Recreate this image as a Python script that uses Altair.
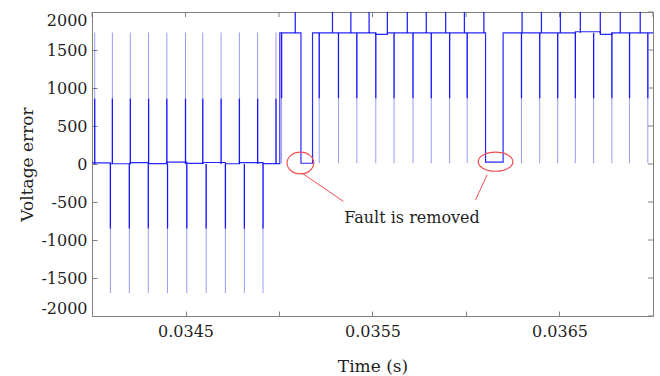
import altair as alt
import pandas as pd

# ---------------- data ----------------
# Section 1 (before 0.035 s): baseline near 0, spikes up and down
s1_up_t = [0.0340144, 0.0341089, 0.0342049, 0.0343026, 0.0344002, 0.0345,
           0.0345923, 0.0346905, 0.0347882, 0.0348858, 0.034984]
s1_down_t = [0.0340982, 0.0341996, 0.034301, 0.0344039, 0.0345069,
             0.0346105, 0.0347134, 0.0348148, 0.0349146]
# Section 2 (after 0.035 s): baseline near 1725
s2_up_t = [0.035087, 0.035286, 0.0353842, 0.0354819, 0.0355795, 0.0356862,
           0.0357876, 0.0358911, 0.0359915, 0.0360955, 0.0362999, 0.0364034,
           0.0365048, 0.0366115, 0.0367182, 0.036825, 0.0369317]
s2_down_t = [0.0350139, 0.035215, 0.035318, 0.0354162, 0.0355176, 0.0356153,
             0.0357166, 0.0358143, 0.0359125, 0.0360064, 0.0362967, 0.0363943,
             0.0364904, 0.0365848, 0.0366825, 0.0367801, 0.0368746, 0.0369723]

# baseline (step-after) breakpoints and levels
base_t = [0.034, 0.0340982, 0.0342049, 0.034301, 0.0344002, 0.0345069,
          0.0345923, 0.0347134, 0.0347882, 0.0349146,
          0.0350043, 0.0351174, 0.0351793, 0.0355176, 0.0355795,
          0.0361046, 0.0361985, 0.0365848, 0.0367182, 0.0367801, 0.037]
base_v = [15, 3, 18, 5, 25, 8, 20, 3, 18, 5,
          1725, 10, 1725, 1705, 1725,
          25, 1725, 1740, 1705, 1725, 1725]

# spike levels
s1_base = 0
s1_up_light, s1_up_dark = 1730, 860
s1_down_dark, s1_down_light = -850, -1700
s2_base = 1725
s2_up_dark = 2600
s2_down_dark, s2_down_light = 865, 10

# axis ticks
x_ticks = [0.034, 0.0345, 0.035, 0.0355, 0.036, 0.0365, 0.037]
x_labeled = ["0.0345", "0.0355", "0.0365"]
y_ticks = [-2000, -1500, -1000, -500, 0, 500, 1000, 1500, 2000]

# annotation
ann_text = "Fault is removed"
ann_text_t, ann_text_v = 0.0357113, -770
ell_t = [0.0351144, 0.036158]
ell_v = [13, 30]
lead_t = [0.0351206, 0.0361131]
lead_v = [-116, -139]
lead_t2 = [0.0353447, 0.0360512]
lead_v2 = [-492, -474]

# ---------------- tables ----------------
rows = []
for t in s1_up_t:
    rows.append(dict(t=t, v=s1_base, v2=s1_up_light, kind="light"))
    rows.append(dict(t=t, v=s1_base, v2=s1_up_dark, kind="dark"))
for t in s1_down_t:
    rows.append(dict(t=t, v=s1_base, v2=s1_down_light, kind="light"))
    rows.append(dict(t=t, v=s1_base, v2=s1_down_dark, kind="dark"))
for t in s2_up_t:
    rows.append(dict(t=t, v=s2_base, v2=s2_up_dark, kind="dark"))
for t in s2_down_t:
    rows.append(dict(t=t, v=s2_base, v2=s2_down_light, kind="light"))
    rows.append(dict(t=t, v=s2_base, v2=s2_down_dark, kind="dark"))
spikes = pd.DataFrame(rows)
base = pd.DataFrame({"t": base_t, "v": base_v})
xt = pd.DataFrame({"t": x_ticks})
yt = pd.DataFrame({"v": y_ticks})
ell1 = pd.DataFrame({"t": [ell_t[0]], "v": [ell_v[0]]})
ell2 = pd.DataFrame({"t": [ell_t[1]], "v": [ell_v[1]]})
leads = pd.DataFrame({"t": lead_t, "v": lead_v, "t2": lead_t2, "v2": lead_v2})
txt = pd.DataFrame({"t": [ann_text_t], "v": [ann_text_v], "label": [ann_text]})

W, H = 561, 304
FONT = "DejaVu Serif"
FRAME = "#808080"
TXT = "#1f1f1f"
BLUE = "#0000ff"
RED = "#f05050"

xs = alt.Scale(domain=[0.034, 0.037], nice=False, zero=False)
ys = alt.Scale(domain=[-2000, 2000], nice=False, zero=False)
lab_list = "[" + ",".join("'%s'" % s for s in x_labeled) + "]"
xaxis = alt.Axis(values=x_ticks, title="Time (s)", offset=-5, tickSize=5,
                 domain=False, grid=False, tickColor=FRAME,
                 labelExpr="indexof(%s, format(datum.value, '.4f')) >= 0 ? format(datum.value, '.4f') : ''" % lab_list,
                 labelFont=FONT, labelFontSize=16, labelColor=TXT,
                 labelPadding=7, labelFlush=False, labelOverlap=False,
                 titleFont=FONT, titleFontSize=17, titleFontWeight="normal",
                 titleColor=TXT, titlePadding=19)
yaxis = alt.Axis(values=y_ticks, title="Voltage error", offset=-5, tickSize=5,
                 domain=False, grid=False, tickColor=FRAME,
                 labelExpr="datum.value < 0 ? '-' + format(-datum.value, 'd') : format(datum.value, 'd')",
                 labelFont=FONT, labelFontSize=16, labelColor=TXT,
                 labelPadding=5, labelFlush=True, labelOverlap=False,
                 titleFont=FONT, titleFontSize=17, titleFontWeight="normal",
                 titleColor=TXT, titlePadding=4)
X = alt.X("t:Q", scale=xs, axis=xaxis)
Y = alt.Y("v:Q", scale=ys, axis=yaxis)

baseline = alt.Chart(base).mark_line(
    interpolate="step-after", color=BLUE, strokeWidth=1.2, opacity=0.85, clip=True
).encode(x=X, y=Y)

light = alt.Chart(spikes).transform_filter("datum.kind == 'light'").mark_rule(
    color=BLUE, strokeWidth=1, opacity=0.4, clip=True
).encode(x=X, y=Y, y2=alt.Y2("v2:Q"))

dark = alt.Chart(spikes).transform_filter("datum.kind == 'dark'").mark_rule(
    color=BLUE, strokeWidth=1.3, opacity=0.85, clip=True
).encode(x=X, y=Y, y2=alt.Y2("v2:Q"))

e1 = alt.Chart(ell1).mark_point(
    shape="M -1 0 A 1 0.81 0 1 1 1 0 A 1 0.81 0 1 1 -1 0 Z",
    size=713, filled=False, color=RED, strokeWidth=1.2, opacity=1
).encode(x=X, y=Y)
e2 = alt.Chart(ell2).mark_point(
    shape="M -1 0 A 1 0.55 0 1 1 1 0 A 1 0.55 0 1 1 -1 0 Z",
    size=1204, filled=False, color=RED, strokeWidth=1.2, opacity=1
).encode(x=X, y=Y)
lead = alt.Chart(leads).mark_rule(color=RED, strokeWidth=1).encode(
    x=X, x2=alt.X2("t2:Q"), y=Y, y2=alt.Y2("v2:Q"))
label = alt.Chart(txt).mark_text(
    font=FONT, fontSize=16, color=TXT, align="center", baseline="alphabetic"
).encode(x=X, y=Y, text="label:N")

top_ticks = alt.Chart(xt).mark_rule(color=FRAME).encode(
    x=X, y=alt.value(0), y2=alt.value(5))
right_ticks = alt.Chart(yt).mark_rule(color=FRAME).encode(
    y=Y, x=alt.value(W), x2=alt.value(W - 5))

chart = alt.layer(
    baseline, light, dark, e1, e2, lead, label, top_ticks, right_ticks
).properties(
    width=W, height=H,
    autosize=alt.AutoSizeParams(type="none"),
    padding={"left": 92, "top": 12, "right": 7, "bottom": 60},
    background="white",
).configure_view(stroke=FRAME, strokeWidth=1)

chart.save("out.html", embed_options={"renderer": "svg", "actions": False})
